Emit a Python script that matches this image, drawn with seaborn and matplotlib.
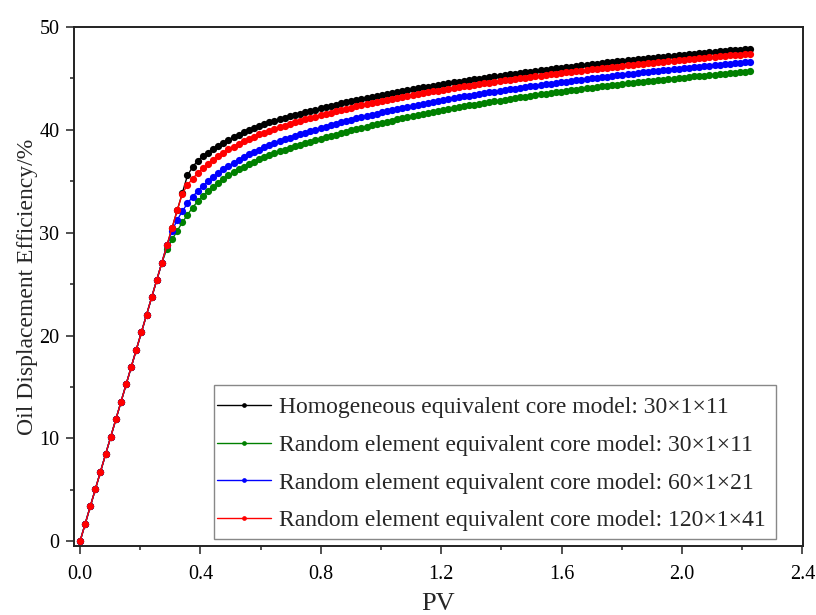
import numpy as np
import pandas as pd
import matplotlib
matplotlib.use("Agg")
import matplotlib.pyplot as plt
from matplotlib.lines import Line2D
from matplotlib.patches import Rectangle
from matplotlib.ticker import MultipleLocator
import seaborn as sns

# ---------------- data ----------------
pv = np.round(np.arange(132) * 0.017, 3)

homog_30 = [0, 1.69, 3.39, 5.08, 6.78, 8.47, 10.16, 11.86, 13.55, 15.25, 16.94, 18.63, 20.33, 22.02, 23.72,
            25.41, 27.10, 28.80, 30.49, 32.19, 33.88, 35.57,
            36.4, 37.0, 37.45, 37.8, 38.1, 38.45, 38.75, 39.05, 39.3, 39.55, 39.8, 40.0, 40.2, 40.4,
            40.56, 40.72, 40.88, 41.03, 41.17, 41.31, 41.45, 41.59, 41.72, 41.85, 41.98, 42.10, 42.22, 42.34,
            42.45, 42.57, 42.68, 42.79, 42.90, 43.00, 43.10, 43.20, 43.30, 43.40, 43.50, 43.59, 43.68, 43.77,
            43.86, 43.95, 44.04, 44.12, 44.21, 44.29, 44.37, 44.45, 44.53, 44.61, 44.69, 44.77, 44.84, 44.91,
            44.99, 45.06, 45.13, 45.20, 45.27, 45.34, 45.41, 45.47, 45.54, 45.60, 45.67, 45.73, 45.80, 45.86,
            45.92, 45.98, 46.04, 46.10, 46.16, 46.22, 46.28, 46.33, 46.39, 46.44, 46.50, 46.55, 46.61, 46.66,
            46.72, 46.77, 46.82, 46.87, 46.92, 46.97, 47.02, 47.07, 47.12, 47.17, 47.22, 47.27, 47.32, 47.36,
            47.41, 47.46, 47.50, 47.55, 47.59, 47.64, 47.68, 47.73, 47.77, 47.81, 47.86, 47.90]

random_30 = [0, 1.69, 3.39, 5.08, 6.78, 8.47, 10.16, 11.86, 13.55, 15.25, 16.94, 18.63, 20.33, 22.02, 23.72,
             25.41, 27.10,
             28.45, 29.35, 30.2, 31.0, 31.75, 32.45, 33.05, 33.6, 34.05, 34.45, 34.85, 35.25,
             35.58, 35.87, 36.15, 36.43, 36.67, 36.90, 37.13, 37.33, 37.52, 37.71, 37.90, 38.07,
             38.23, 38.39, 38.55, 38.70, 38.85, 39.00, 39.14, 39.28, 39.42, 39.55, 39.69, 39.82, 39.95, 40.08, 40.20,
             40.32, 40.44, 40.56, 40.68, 40.80, 40.91, 41.02, 41.13, 41.24, 41.35, 41.46, 41.56, 41.67, 41.77, 41.87,
             41.96, 42.04, 42.13, 42.22, 42.30, 42.38, 42.46, 42.55, 42.62, 42.70, 42.78, 42.85, 42.93, 43.01,
             43.07, 43.15, 43.22, 43.29, 43.36, 43.44, 43.51, 43.57, 43.64, 43.71, 43.77, 43.84, 43.91, 43.97,
             44.03, 44.10, 44.15, 44.22, 44.28, 44.35, 44.40, 44.47,
             44.52, 44.57, 44.63, 44.68, 44.73, 44.78, 44.83, 44.89, 44.94, 44.99, 45.04, 45.09, 45.14, 45.19,
             45.24, 45.28, 45.33, 45.38, 45.43, 45.47, 45.52, 45.56, 45.61, 45.66, 45.70]

random_60 = [0, 1.69, 3.39, 5.08, 6.78, 8.47, 10.16, 11.86, 13.55, 15.25, 16.94, 18.63, 20.33, 22.02, 23.72,
             25.41, 27.10, 28.80,
             30.2, 31.25, 32.1, 32.85, 33.5, 34.05, 34.55, 35.0, 35.4, 35.8, 36.15,
             36.49, 36.78, 37.07, 37.37, 37.61, 37.85, 38.09, 38.29, 38.49, 38.70, 38.89, 39.07,
             39.23, 39.40, 39.56, 39.71, 39.87, 40.02, 40.16, 40.31, 40.45, 40.58, 40.73, 40.86, 40.99, 41.13, 41.25,
             41.36, 41.48, 41.59, 41.70, 41.82, 41.92, 42.02, 42.13, 42.23, 42.33, 42.44, 42.53, 42.63, 42.73, 42.82,
             42.91, 42.99, 43.08, 43.16, 43.25, 43.32, 43.40, 43.48, 43.56, 43.64, 43.71, 43.79, 43.86, 43.94,
             44.00, 44.08, 44.14, 44.22, 44.29, 44.36, 44.43, 44.49, 44.56, 44.62, 44.69, 44.75, 44.82, 44.89,
             44.94, 45.01, 45.06, 45.13, 45.18, 45.25, 45.30, 45.37,
             45.42, 45.47, 45.53, 45.58, 45.63, 45.68, 45.73, 45.79, 45.84, 45.89, 45.94, 45.99, 46.04, 46.09,
             46.14, 46.18, 46.23, 46.28, 46.33, 46.37, 46.42, 46.46, 46.51, 46.56, 46.60]

random_120 = [0, 1.69, 3.39, 5.08, 6.78, 8.47, 10.16, 11.86, 13.55, 15.25, 16.94, 18.63, 20.33, 22.02, 23.72,
              25.41, 27.10, 28.80, 30.49, 32.19,
              33.8, 34.65, 35.25, 35.8, 36.25, 36.7, 37.1, 37.45, 37.8,
              38.12, 38.38, 38.65, 38.92, 39.13, 39.35, 39.57, 39.74, 39.92, 40.10, 40.26, 40.42,
              40.57, 40.72, 40.87, 41.01, 41.15, 41.29, 41.42, 41.55, 41.68, 41.80, 41.93, 42.05, 42.17, 42.29, 42.40,
              42.50, 42.61, 42.71, 42.81, 42.92, 43.01, 43.10, 43.20, 43.29, 43.38, 43.48, 43.56, 43.65, 43.74, 43.82,
              43.91, 43.99, 44.07, 44.15, 44.23, 44.30, 44.37, 44.45, 44.52, 44.59, 44.66, 44.73, 44.80, 44.87, 44.93,
              45.02, 45.08, 45.15, 45.21, 45.28, 45.34, 45.40, 45.46, 45.52, 45.58, 45.64, 45.70, 45.76, 45.81,
              45.87, 45.92, 45.98, 46.03, 46.09, 46.14,
              46.22, 46.27, 46.32, 46.37, 46.42, 46.47, 46.52, 46.57, 46.62, 46.67, 46.72, 46.77, 46.82, 46.86,
              46.91, 46.96, 47.00, 47.05, 47.09, 47.14, 47.18, 47.23, 47.27, 47.31, 47.36, 47.40]

labels = ["Homogeneous equivalent core model: 30\u00d71\u00d711",
          "Random element equivalent core model: 30\u00d71\u00d711",
          "Random element equivalent core model: 60\u00d71\u00d721",
          "Random element equivalent core model: 120\u00d71\u00d741"]
colors = ["#000000", "#008000", "#0000FF", "#FF0000"]
x_ticks = [0.0, 0.4, 0.8, 1.2, 1.6, 2.0, 2.4]
y_ticks = [0, 10, 20, 30, 40, 50]

series = [homog_30, random_30, random_60, random_120]
frames = []
for lab, vals in zip(labels, series):
    n = min(len(vals), len(pv))
    frames.append(pd.DataFrame({"PV": pv[:n], "eff": vals[:n], "model": lab}))
df = pd.concat(frames, ignore_index=True)

# ---------------- style ----------------
sns.set_style("ticks")
plt.rcParams["font.family"] = ["Liberation Serif", "DejaVu Serif"]

fig = plt.figure(figsize=(8.16, 6.15), dpi=100)
ax = fig.add_axes([74 / 816, 1 - 546 / 615, 729 / 816, 519 / 615])

sns.lineplot(data=df, x="PV", y="eff", hue="model", hue_order=labels,
             palette=colors, marker="o", markersize=5.2, markeredgewidth=0,
             linewidth=1.0, estimator=None, sort=False, legend=False, ax=ax)

ax.set_xlim(-0.02, 2.402)
ax.set_ylim(-0.45, 50)
ax.set_xticks(x_ticks)
ax.set_xticklabels([f"{t:.1f}" for t in x_ticks])
ax.set_yticks(y_ticks)
ax.xaxis.set_minor_locator(MultipleLocator(0.2))
ax.yaxis.set_minor_locator(MultipleLocator(5))
ax.tick_params(axis="both", which="major", direction="out", length=5.5, width=1.1,
               labelsize=14.5, colors="#222222", labelcolor="black", pad=5)
ax.tick_params(axis="x", which="major", pad=8)
ax.tick_params(axis="both", which="minor", direction="out", length=3.2, width=1.1, colors="#222222")
ax.tick_params(top=False, right=False, which="both")
for s in ax.spines.values():
    s.set_visible(True)
    s.set_linewidth(1.4)
    s.set_color("#222222")

ax.set_xlabel("PV", fontsize=19, labelpad=7)
ax.set_ylabel("Oil Displacement Efficiency/%", fontsize=17, labelpad=1)

# legend frame drawn as its own rectangle (tight on the sides, roomier top/bottom)
ax.add_patch(Rectangle((0.192, 0.0135), 0.963 - 0.192, 0.310 - 0.0135,
                       transform=ax.transAxes, facecolor="white", edgecolor="#888888",
                       linewidth=1.0, zorder=4))
handles = [Line2D([0], [0], color=c, lw=1.0, marker="o", markersize=3.4, markeredgewidth=0)
           for c in colors]
leg = ax.legend(handles, labels, loc="center left", bbox_to_anchor=(0.196, 0.158),
                fontsize=17, frameon=False, handlelength=2.3, handletextpad=0.35,
                labelspacing=0.68, borderpad=0, borderaxespad=0)
leg.set_zorder(5)

fig.savefig("out.png", dpi=100)
